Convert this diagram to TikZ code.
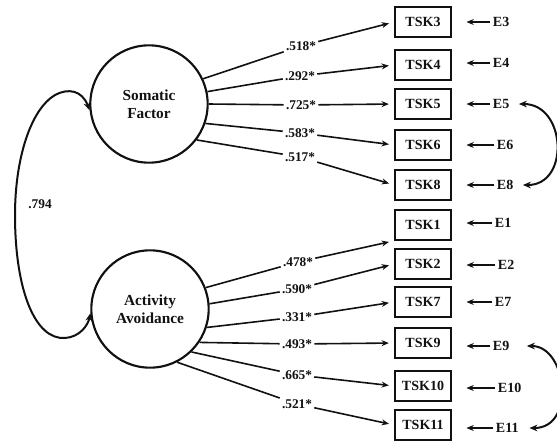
\documentclass[tikz,border=0pt]{standalone}
\usepackage{fontspec}
\setmainfont{Liberation Serif}
\usepackage{tikz}
\usetikzlibrary{arrows.meta,positioning}
\definecolor{cInk}{HTML}{111111}
\tikzset{
  fac/.style={draw=cInk,circle,line width=1.6pt,minimum size=88pt,align=center,font=\fontsize{11.5}{13.5}\selectfont\bfseries,text=cInk,inner sep=0pt},
  tbox/.style={draw=cInk,line width=1.2pt,minimum width=42pt,minimum height=22.5pt,font=\fontsize{10.5}{12}\selectfont\bfseries,text=cInk,inner sep=2pt},
  elbl/.style={anchor=west,font=\fontsize{10.5}{12}\selectfont\bfseries,text=cInk,inner sep=2pt},
  lbl/.style={font=\fontsize{10}{12}\selectfont\bfseries,text=cInk,inner sep=1.5pt},
  ln/.style={line width=1.2pt,color=cInk},
  arr/.style={-{Stealth[length=5.5pt,width=4.5pt]},line width=1.2pt,color=cInk},
  cov/.style={{Stealth[length=6pt,width=5pt]}-{Stealth[length=6pt,width=5pt]},line width=1.5pt,color=cInk},
}

\begin{document}
\begin{tikzpicture}[x=0.75pt,y=-0.75pt]
  \useasboundingbox (0,0) rectangle (557,440);
  % factors
  \node[fac] (som) at (149,104) {Somatic\\Factor};
  \node[fac] (act) at (150,309) {Activity\\Avoidance};
  % items
  \foreach \n/\y in {3/22,4/65,5/104,6/145,8/185,1/225,2/264,7/302,9/343,10/386,11/425}
    \node[tbox] (tsk\n) at (423,\y) {TSK\n};
  % error terms
  \foreach \n/\x/\y in {3/490/22,4/490/63,5/490/104,6/494/145,8/494/185,1/492/223,2/495/265,7/492/302,9/490/346,10/495/388,11/493/428}{
    \node[elbl] (e\n) at (\x,\y) {E\n};
    \draw[arr,shorten >=11pt] (e\n.west) -- (e\n.west -| tsk\n.east);
  }
  % loadings
  \foreach \f/\a/\n/\x/\y/\v/\t in {som/25/3/301/46/518/west,som/12/4/300/76/292/west,som/0/5/301/105/725/west,som/-19/6/300/133/583/west,som/-37/8/300/157/517/west,act/21/1/298/262/478/south west,act/5/2/297/289/590/west,act/-18/7/297/317/331/west,act/-34/9/297/344/493/west,act/-46/10/297/375/665/west,act/-63/11/297/404/521/west}{
    \node[lbl] (l\n) at (\x,\y) {.\v*};
    \draw[ln] (\f.\a) -- (l\n);
    \draw[arr,shorten >=4pt] (l\n) -- (tsk\n.\t);
  }
  % factor covariance
  \draw[cov] (som.186) .. controls (82,90) and (68,88) .. (55,95)
    .. controls (30,110) and (15,160) .. (15,215)
    .. controls (15,290) and (35,340) .. (65,338)
    .. controls (80,337) and (88,325) .. (act.184);
  \node[lbl] (rho) at (40,204) {.794};
  % correlated errors
  \draw[cov,shorten <=5pt,shorten >=5pt] (e5.east) to[out=0,in=0,looseness=1.7] (e8.east);
  \draw[cov,shorten <=11pt,shorten >=6pt] (e9.east) to[out=0,in=0,looseness=1.7] (e11.east);
\end{tikzpicture}
\end{document}
